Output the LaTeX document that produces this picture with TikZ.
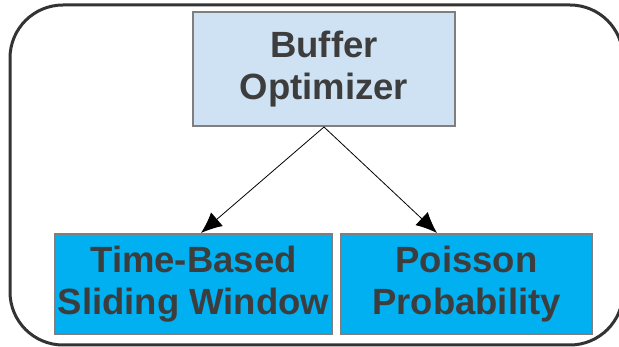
\documentclass[tikz,border=0pt]{standalone}
\usepackage{fontspec}
\setmainfont{Liberation Sans}
\usetikzlibrary{arrows.meta}
\definecolor{boxtext}{HTML}{3D3D3D}
\definecolor{boxline}{HTML}{7F7F7F}
\definecolor{lightfill}{HTML}{CFE2F3}
\definecolor{brightfill}{HTML}{00B0F0}
\tikzset{blk/.style={draw=boxline, line width=2pt, align=center, text=boxtext,
  font=\fontsize{36.5}{42}\selectfont\bfseries, inner sep=0pt},
  arr/.style={-{Latex[length=21pt,width=18pt]}, line width=0.8pt}}

\begin{document}
\begin{tikzpicture}[x=1pt,y=1pt]
      \useasboundingbox (0,0) rectangle (619,347);
      \draw [line width=3pt, draw=black!80, rounded corners=53pt] (10,2) rectangle (623,342);

      \node [blk, fill=lightfill, minimum width=262pt, minimum height=114pt] (buf) at (324, 278) {Buffer\\Optimizer};
      \node [blk, fill=brightfill, minimum width=277pt, minimum height=100pt] (tsw) at (193.5, 63) {Time-Based\\Sliding Window};
      \node [blk, fill=brightfill, minimum width=251pt, minimum height=100pt] (poi) at (466.5, 63) {Poisson\\Probability};

      \draw [arr] (buf.south) -- ([xshift=7.5pt]tsw.north);
      \draw [arr] (buf.south) -- ([xshift=-29.5pt]poi.north);
    \end{tikzpicture}
\end{document}
